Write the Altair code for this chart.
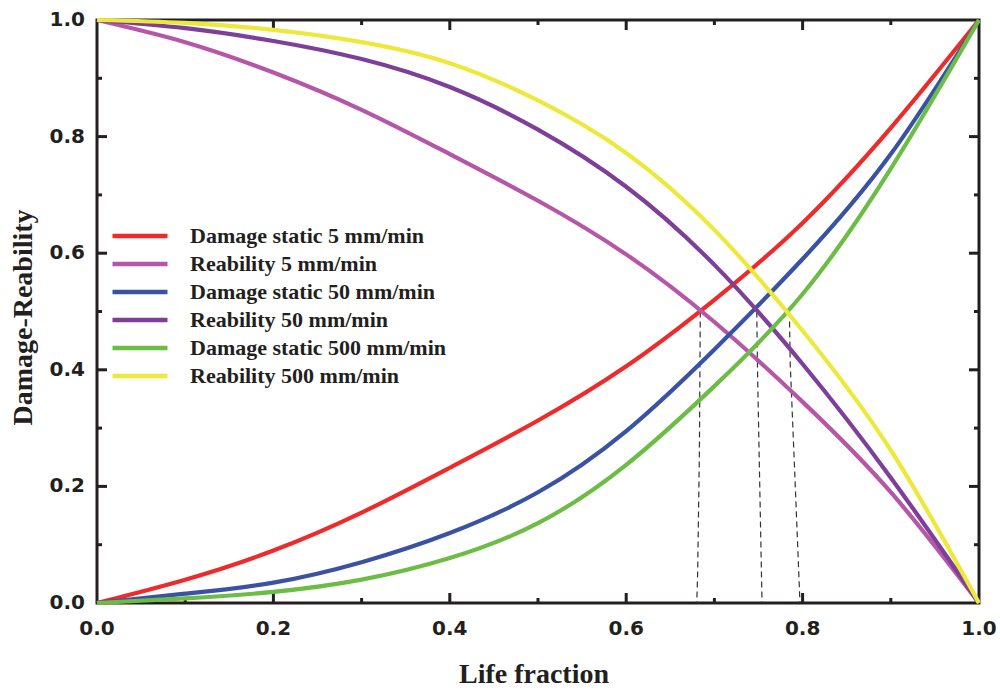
import altair as alt
import pandas as pd

# Life fraction sample points and the six curves read at those points
life = [0.0, 0.1, 0.2, 0.3, 0.4, 0.5, 0.6, 0.7, 0.8, 0.9, 1.0]
damage_5 = [0.0, 0.040, 0.090, 0.155, 0.232, 0.313, 0.406, 0.520, 0.652, 0.815, 1.0]
reliab_5 = [1.0, 0.962, 0.910, 0.846, 0.770, 0.690, 0.598, 0.482, 0.345, 0.190, 0.0]
damage_50 = [0.0, 0.016, 0.035, 0.070, 0.120, 0.190, 0.295, 0.435, 0.590, 0.770, 1.0]
reliab_50 = [1.0, 0.986, 0.964, 0.933, 0.885, 0.812, 0.714, 0.580, 0.410, 0.215, 0.0]
damage_500 = [0.0, 0.008, 0.019, 0.040, 0.077, 0.137, 0.237, 0.372, 0.530, 0.745, 1.0]
reliab_500 = [1.0, 0.995, 0.983, 0.962, 0.926, 0.862, 0.772, 0.640, 0.467, 0.262, 0.0]

series_names = [
    "Damage static 5 mm/min",
    "Reability 5 mm/min",
    "Damage static 50 mm/min",
    "Reability 50 mm/min",
    "Damage static 500 mm/min",
    "Reability 500 mm/min",
]
series_colors = ["#ee2a2a", "#b557a6", "#3a52a3", "#7d3f97", "#6cbd45", "#ede93c"]
series_values = [damage_5, reliab_5, damage_50, reliab_50, damage_500, reliab_500]

# Dashed guides dropping from each crossing point to the x axis
guide_id = ["a", "a", "a", "a", "b", "b", "b", "c", "c", "c", "c"]
guide_x = [0.684, 0.683, 0.681, 0.680, 0.748, 0.749, 0.754, 0.785, 0.786, 0.792, 0.797]
guide_y = [0.50, 0.26, 0.05, 0.0, 0.50, 0.39, 0.0, 0.50, 0.41, 0.19, 0.0]

major_ticks = [0.0, 0.2, 0.4, 0.6, 0.8, 1.0]
minor_ticks = [0.1, 0.3, 0.5, 0.7, 0.9]
x_title = "Life fraction"
y_title = "Damage-Reability"

W, H = 882, 583
INK = "#231f20"
SANS = "DejaVu Sans"
SERIF = "Liberation Serif"

rows = []
for name, vals in zip(series_names, series_values):
    for xv, yv in zip(life, vals):
        rows.append({"x": xv, "y": yv, "series": name})
curves = pd.DataFrame(rows)

guides = pd.DataFrame({
    "x": guide_x,
    "y": guide_y,
    "gid": guide_id,
    "seq": list(range(len(guide_x))),
})

tick_labels = pd.DataFrame({
    "v": major_ticks,
    "label": [f"{v:.1f}" for v in major_ticks],
})


def unit_scale():
    return alt.Scale(domain=[0, 1], nice=False, zero=False)


def frame_ticks(values, side, length):
    """Inward-pointing tick marks along one side of the frame."""
    base = alt.Chart(pd.DataFrame({"t": values})).mark_rule(
        color=INK, strokeWidth=3
    )
    if side in ("bottom", "top"):
        y0 = H if side == "bottom" else 0
        step = -length if side == "bottom" else length
        return base.encode(
            x=alt.X("t:Q", scale=unit_scale(), axis=None),
            y=alt.value(y0), y2=alt.value(y0 + step),
        )
    x0 = 0 if side == "left" else W
    step = length if side == "left" else -length
    return base.encode(
        y=alt.Y("t:Q", scale=unit_scale(), axis=None),
        x=alt.value(x0), x2=alt.value(x0 + step),
    )


inner_major = major_ticks[1:-1]
tick_layers = []
for side in ("bottom", "top", "left", "right"):
    tick_layers.append(frame_ticks(inner_major, side, 10))
    tick_layers.append(frame_ticks(minor_ticks, side, 5))

guide_layer = alt.Chart(guides).mark_line(
    color="#333333", strokeWidth=1.2, strokeDash=[6, 4]
).encode(
    x=alt.X("x:Q", scale=unit_scale(), axis=None),
    y=alt.Y("y:Q", scale=unit_scale(), axis=None),
    detail="gid:N",
    order="seq:Q",
)

curve_layer = alt.Chart(curves).mark_line(
    strokeWidth=4.2, interpolate="natural"
).encode(
    x=alt.X("x:Q", scale=unit_scale(), axis=None),
    y=alt.Y("y:Q", scale=unit_scale(), axis=None),
    color=alt.Color(
        "series:N",
        sort=series_names,
        scale=alt.Scale(domain=series_names, range=series_colors),
        legend=alt.Legend(
            title=None, orient="none", legendX=13, legendY=205,
            symbolType="stroke", symbolSize=3025, symbolStrokeWidth=4.5,
            labelFont=SERIF, labelFontWeight="bold", labelFontSize=22,
            labelColor=INK, labelOffset=20, rowPadding=6, padding=0,
            clipHeight=22, labelLimit=400,
        ),
    ),
)

# Tick labels placed by the same unit scales as the curves
label_style = dict(font=SANS, fontWeight="bold", fontSize=20, color=INK)

x_labels = alt.Chart(tick_labels).mark_text(
    align="center", baseline="alphabetic", **label_style
).encode(
    x=alt.X("v:Q", scale=unit_scale(), axis=None),
    y=alt.value(H + 32),
    text="label:N",
)

y_labels = alt.Chart(tick_labels).mark_text(
    align="right", baseline="middle", **label_style
).encode(
    y=alt.Y("v:Q", scale=unit_scale(), axis=None),
    x=alt.value(-12),
    text="label:N",
)

title_style = dict(font=SERIF, fontWeight="bold", fontSize=28, color=INK)

x_title_layer = alt.Chart(pd.DataFrame({"t": [x_title]})).mark_text(
    align="center", baseline="alphabetic", **title_style
).encode(
    x=alt.value(W / 2 - 4),
    y=alt.value(H + 80),
    text="t:N",
)

y_title_layer = alt.Chart(pd.DataFrame({"t": [y_title]})).mark_text(
    align="center", baseline="alphabetic", angle=270, **title_style
).encode(
    x=alt.value(-65),
    y=alt.value(H / 2 + 6),
    text="t:N",
)

chart = alt.layer(
    *tick_layers, guide_layer, curve_layer,
    x_labels, y_labels, x_title_layer, y_title_layer
).properties(
    width=W, height=H,
    autosize=alt.AutoSizeParams(type="none"),
    padding={"left": 97, "top": 20, "right": 21, "bottom": 89},
    background="white",
).configure_view(
    stroke=INK, strokeWidth=3
)

chart.save("out.html", embed_options={"renderer": "svg", "actions": False})
